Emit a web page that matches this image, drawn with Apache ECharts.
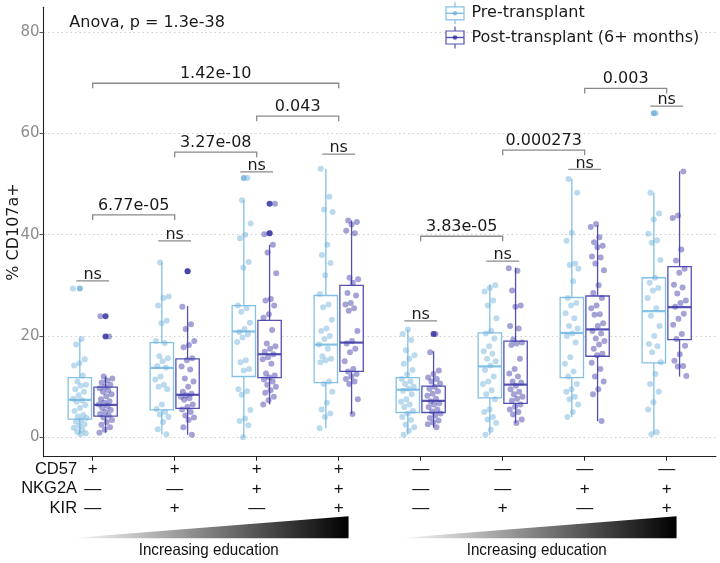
<!DOCTYPE html>
<html><head><meta charset="utf-8">
<script src="https://cdn.jsdelivr.net/npm/echarts@6/dist/echarts.min.js"></script>
<style>html,body{margin:0;padding:0;background:#fff}#c{width:720px;height:563px}</style>
</head><body><div id="c"></div>
<script>
// ---------- data ----------
const CD57  = ['+','+','+','+','—','—','—','—'];
const NKG2A = ['—','—','+','+','—','—','+','+'];
const KIR   = ['—','+','—','+','—','+','—','+'];
const rowNames = ['CD57','NKG2A','KIR'];
const yTicks = [0,20,40,60,80];
const seriesNames = ['Pre-transplant','Post-transplant (6+ months)'];

// box stats: [lower whisker, Q1, median, Q3, upper whisker]
const boxPre = [
  [0.6, 3.6, 7.4, 11.8, 19.5],
  [0.6, 5.4, 13.7, 18.7, 34.5],
  [0.0, 12.0, 20.9, 26.0, 46.8],
  [1.8, 10.8, 18.3, 28.0, 53.0],
  [0.5, 4.9, 9.4, 11.8, 21.3],
  [0.5, 7.8, 14.0, 20.6, 30.2],
  [4.0, 11.8, 20.6, 27.6, 51.0],
  [0.6, 14.7, 24.9, 31.5, 48.3]
];
const boxPost = [
  [0.9, 4.2, 6.4, 9.9, 12.0],
  [0.5, 5.7, 8.4, 15.5, 25.9],
  [6.5, 11.8, 16.4, 23.1, 38.0],
  [4.6, 13.0, 18.7, 30.0, 42.8],
  [1.9, 4.9, 7.2, 10.1, 17.0],
  [2.8, 6.7, 10.4, 19.0, 33.5],
  [3.2, 16.0, 21.3, 27.9, 41.9],
  [12.0, 19.3, 25.7, 33.7, 52.5]
];
const outPre  = [[29.4],[],[51.2],[],[],[],[],[64.0]];
const outPost = [[23.9,19.9],[32.8],[46.1,40.3],[],[20.4],[],[],[]];

const ptsPre = [
  [29.4,19.4,18.3,15.4,14.6,14.2,12.2,11.0,10.4,10.2,9.5,9.0,8.3,7.6,7.3,7.0,6.4,5.8,5.2,4.4,4.1,3.8,3.4,3.1,2.6,2.3,1.9,1.5,1.1,0.8,0.6],
  [34.5,27.8,27.5,26.0,23.0,22.5,19.0,18.6,16.0,15.6,15.0,14.1,13.8,12.0,11.4,10.4,10.0,9.5,6.5,5.6,5.0,4.5,4.0,3.0,1.6,0.6],
  [51.2,46.8,42.2,40.0,39.3,34.6,33.5,26.0,25.5,24.8,22.6,21.4,20.8,20.3,19.7,18.8,15.2,14.8,13.5,13.2,9.5,9.1,8.4,5.4,3.7,3.2,2.4,0.0],
  [53.0,47.5,45.0,44.5,38.0,36.0,34.4,32.0,28.3,26.2,25.7,23.2,21.5,21.0,20.0,19.4,18.3,17.5,16.0,15.5,15.2,14.8,11.0,10.5,9.0,6.8,5.5,4.7,4.0,1.8],
  [21.3,20.4,19.2,17.2,16.2,15.5,14.5,13.3,12.4,11.5,11.0,10.5,10.0,9.6,9.2,8.5,7.5,7.0,6.5,6.0,5.2,4.7,4.0,3.4,2.5,2.0,1.3,0.5],
  [30.0,29.5,28.8,27.0,26.0,23.5,21.0,20.5,19.5,18.0,17.0,16.5,15.5,15.0,14.2,13.3,12.0,11.0,10.5,9.3,8.5,7.5,5.5,5.0,4.0,3.5,2.8,1.5,0.5],
  [51.0,48.3,40.4,38.8,34.3,34.0,33.3,30.8,27.5,26.5,26.0,24.5,23.5,22.0,21.5,20.5,20.0,18.7,15.8,14.5,13.0,12.0,10.5,9.5,9.0,8.0,7.5,6.5,5.0,4.0],
  [64.0,48.3,44.2,43.0,40.2,38.9,38.4,35.0,31.5,30.5,29.5,29.0,27.5,25.5,24.0,22.0,20.0,18.4,18.0,16.8,14.8,12.5,10.5,9.0,6.9,5.5,1.0,0.6]
];
const ptsPost = [
  [23.9,19.9,12.0,11.6,11.2,10.8,10.4,10.0,9.7,9.3,9.0,8.5,8.1,7.5,7.1,6.8,6.5,6.2,5.8,5.4,5.0,4.6,4.3,3.9,3.4,3.0,2.5,2.0,1.5,0.9],
  [32.8,25.8,22.3,21.4,19.0,18.2,17.8,15.6,15.2,14.0,13.4,11.6,11.0,10.0,9.0,8.6,8.3,8.0,7.7,7.4,6.5,6.0,5.5,5.0,4.3,3.9,3.4,2.0,0.5],
  [46.1,40.3,40.1,38.0,36.5,32.4,27.3,27.0,26.0,24.3,23.6,21.2,18.5,18.0,17.5,16.9,16.4,15.8,15.4,14.5,12.6,12.2,11.8,11.4,11.0,10.4,10.0,9.3,8.8,8.0,7.3,6.5],
  [42.8,42.5,42.0,40.8,40.3,31.5,31.2,30.5,28.5,28.0,26.5,26.2,25.5,25.0,21.0,19.0,18.5,17.5,16.8,15.0,13.5,13.0,12.5,12.0,11.5,11.0,10.5,7.5,4.6],
  [20.4,16.8,13.2,12.5,11.8,11.5,11.0,10.6,10.0,9.6,9.1,8.6,8.2,7.6,7.1,6.7,6.5,6.0,5.5,5.1,4.7,4.3,3.8,3.3,2.9,2.6,2.0],
  [33.4,32.9,29.0,26.0,25.8,22.0,21.5,19.3,18.7,18.5,18.2,15.5,13.5,12.6,12.0,11.0,10.8,10.2,9.5,9.0,8.5,8.0,7.6,7.2,6.5,6.1,5.5,5.0,4.5,3.5,2.8],
  [42.1,41.5,39.5,38.5,37.8,37.5,35.7,35.5,34.3,33.0,30.0,28.5,27.5,26.0,25.5,24.3,24.2,22.5,22.0,21.0,20.5,19.5,19.0,18.3,17.5,16.5,16.2,14.7,13.5,12.0,11.0,9.5,8.5,3.2],
  [52.5,43.8,43.3,37.1,34.9,33.3,32.5,30.1,29.6,28.4,27.0,26.5,25.8,24.4,23.4,22.2,20.4,19.4,18.1,16.4,15.1,14.1,14.0,12.1]
];

// comparisons
const bracketLabel = ['1.42e-10','0.043','3.27e-08','6.77e-05','3.83e-05','0.000273','0.003'];
const bracketFrom  = [0,2,1,0,4,5,6];
const bracketTo    = [3,3,2,1,5,6,7];
const bracketY     = [69.9,63.4,56.3,43.9,39.7,56.7,68.9];
const nsLabel = ['ns','ns','ns','ns','ns','ns','ns','ns'];
const nsY     = [30.9,38.8,52.4,55.9,23.0,34.8,52.9,65.4];
const anovaText = 'Anova, p = 1.3e-38';
const eduText = 'Increasing education';

// ---------- styling ----------
const PRE_LINE = '#82c0e5', POST_LINE = '#5350b2';
const PRE_PT = 'rgba(110,176,218,0.58)', POST_PT = 'rgba(60,56,166,0.58)';
const PRE_OUT = '#6aaed8', POST_OUT = '#27279a';
const DODGE = 0.157, BOX_W = 0.285, JIT = 0.085;
const FONT = 'DejaVu Sans';
const TFONT = '"Liberation Sans", Arial, sans-serif';
const YMIN = -3.83, YMAX = 84.9;

function jitter(g, k) { const f = ((k * 0.6180339 + g * 0.377) % 1); return (f - 0.5) * 2 * JIT; }

function boxRender(color) {
  return function (params, api) {
    const x = api.value(0);
    const lo = api.coord([x, api.value(1)]), q1 = api.coord([x, api.value(2)]),
          md = api.coord([x, api.value(3)]), q3 = api.coord([x, api.value(4)]),
          hi = api.coord([x, api.value(5)]);
    const hw = api.size([BOX_W, 0])[0] / 2;
    const ls = { stroke: color, lineWidth: 1.3 };
    return { type: 'group', children: [
      { type: 'line', shape: { x1: lo[0], y1: lo[1], x2: q1[0], y2: q1[1] }, style: ls },
      { type: 'line', shape: { x1: q3[0], y1: q3[1], x2: hi[0], y2: hi[1] }, style: ls },
      { type: 'rect', shape: { x: q3[0] - hw, y: q3[1], width: 2 * hw, height: q1[1] - q3[1] }, style: { fill: '#fff', stroke: color, lineWidth: 1.3 } },
      { type: 'line', shape: { x1: md[0] - hw, y1: md[1], x2: md[0] + hw, y2: md[1] }, style: { stroke: color, lineWidth: 2.2 } }
    ]};
  };
}
function bracketRender(labels, tips) {
  return function (params, api) {
    const a = api.coord([api.value(0), api.value(2)]), b = api.coord([api.value(1), api.value(2)]);
    const t = tips ? api.size([0, 1])[1] : 0;
    const pts = tips ? [[a[0], a[1] + t], a, b, [b[0], b[1] + t]] : [a, b];
    return { type: 'group', children: [
      { type: 'polyline', shape: { points: pts }, style: { stroke: '#8a8a8a', lineWidth: 1.3, fill: null } },
      { type: 'text', style: { text: labels[params.dataIndex], x: (a[0] + b[0]) / 2, y: a[1] + (tips ? -1 : 2),
        align: 'center', verticalAlign: 'bottom', fontFamily: FONT, fontSize: 16, fill: '#1a1a1a' } }
    ]};
  };
}

const boxPreData  = boxPre.map((b, i) => [i - DODGE, ...b]);
const boxPostData = boxPost.map((b, i) => [i + DODGE, ...b]);
const outPreData  = [].concat(...outPre.map((o, i) => o.map(v => [i - DODGE, v])));
const outPostData = [].concat(...outPost.map((o, i) => o.map(v => [i + DODGE, v])));
const ptPreData   = [].concat(...ptsPre.map((o, i) => o.map((v, k) => [i - DODGE + jitter(i, k), v])));
const ptPostData  = [].concat(...ptsPost.map((o, i) => o.map((v, k) => [i + DODGE + jitter(i + 3, k), v])));
const brData = bracketLabel.map((l, i) => [bracketFrom[i], bracketTo[i], bracketY[i]]);
const nsData = nsY.map((y, i) => [i - 0.2, i + 0.2, y]);
const cats = CD57.map((c, i) => i);

const chart = echarts.init(document.getElementById('c'), null, { renderer: 'canvas' });
const option = {
  animation: false,
  backgroundColor: '#fff',
  grid: { left: 43.5, right: 4.1, top: 7.3, bottom: 106.3, containLabel: false, outerBoundsMode: 'none' },
  xAxis: {
    type: 'value', min: -0.6, max: 7.6,
    splitLine: { show: false },
    axisLine: { show: true, onZero: false, lineStyle: { color: '#222', width: 1.1 } },
    axisTick: { show: true, customValues: cats, length: 4, lineStyle: { color: '#222' } },
    axisLabel: { customValues: cats, margin: 3, formatter: v => CD57[v] + '\n' + NKG2A[v] + '\n' + KIR[v],
      fontFamily: TFONT, fontSize: 17, lineHeight: 19.5, color: '#111' }
  },
  yAxis: {
    type: 'value', min: YMIN, max: YMAX,
    name: '% CD107a+', nameLocation: 'middle', nameGap: 22, nameMoveOverlap: false,
    nameTextStyle: { fontFamily: FONT, fontSize: 16, color: '#1a1a1a' },
    axisLine: { show: true, onZero: false, lineStyle: { color: '#222', width: 1.1 } },
    axisTick: { show: true, customValues: yTicks, length: 4, lineStyle: { color: '#555' } },
    axisLabel: { customValues: yTicks, margin: 4, fontFamily: FONT, fontSize: 15, color: '#8c8c8c' },
    splitLine: { show: true, lineStyle: { color: '#cfcfcf', type: [1.5, 3], width: 1 } }
  },
  series: [
    { type: 'custom', name: seriesNames[0], renderItem: boxRender(PRE_LINE), data: boxPreData, encode: { x: 0, y: [1,2,3,4,5] }, z: 2 },
    { type: 'custom', name: seriesNames[1], renderItem: boxRender(POST_LINE), data: boxPostData, encode: { x: 0, y: [1,2,3,4,5] }, z: 2 },
    { type: 'scatter', data: outPreData, symbolSize: 6, itemStyle: { color: PRE_OUT }, z: 3 },
    { type: 'scatter', data: outPostData, symbolSize: 6, itemStyle: { color: POST_OUT }, z: 3 },
    { type: 'scatter', data: ptPreData, symbolSize: 6, itemStyle: { color: PRE_PT }, z: 4 },
    { type: 'scatter', data: ptPostData, symbolSize: 6, itemStyle: { color: POST_PT }, z: 4 },
    { type: 'custom', renderItem: bracketRender(bracketLabel, true), data: brData, encode: { x: [0,1], y: 2 }, clip: false, z: 5 },
    { type: 'custom', renderItem: bracketRender(nsLabel, false), data: nsData, encode: { x: [0,1], y: 2 }, clip: false, z: 5 }
  ]
};
chart.setOption(option);

// ---------- annotations positioned from the axes ----------
const px = (x, y) => chart.convertToPixel({ gridIndex: 0 }, [x, y]);
const axisBottom = px(0, YMIN)[1];
const anova = px(-0.285, 81.9);
const tri = [[-0.29, 3.12], [3.71, 7.12]];
const triTop = axisBottom + 59.5, triBot = axisBottom + 81.5, eduY = axisBottom + 93.5;
const graphics = [
  { type: 'text', style: { text: anovaText, x: anova[0], y: anova[1], verticalAlign: 'middle', fontFamily: FONT, fontSize: 16, fill: '#1a1a1a' } },
  { type: 'text', style: { text: rowNames.join('\n'), x: px(-0.19, 0)[0], y: axisBottom + 3, align: 'right', verticalAlign: 'top',
      fontFamily: TFONT, fontSize: 16.5, lineHeight: 19.5, fill: '#111' } }
];
tri.forEach(t => {
  const l = px(t[0], 0)[0], r = px(t[1], 0)[0];
  graphics.push({ type: 'polygon', shape: { points: [[l, triBot], [r, triBot], [r, triTop]] },
    style: { fill: new echarts.graphic.LinearGradient(0, 0, 1, 0, [{ offset: 0, color: '#ffffff' }, { offset: 1, color: '#000000' }]) } });
  graphics.push({ type: 'text', x: (l + r) / 2, y: eduY, scaleX: 0.92, style: { text: eduText, x: 0, y: 0, align: 'center', verticalAlign: 'middle',
    fontFamily: TFONT, fontSize: 16.5, fill: '#111' } });
});
// legend
const legX = 455, legY = [13.3, 37.5], legCol = [PRE_LINE, POST_LINE], legPt = [PRE_OUT, POST_OUT];
seriesNames.forEach((n, i) => {
  const cy = legY[i], c = legCol[i];
  graphics.push({ type: 'line', shape: { x1: legX, y1: cy - 11, x2: legX, y2: cy + 11 }, style: { stroke: c, lineWidth: 1.2 } });
  graphics.push({ type: 'rect', shape: { x: legX - 9, y: cy - 6.5, width: 18, height: 13 }, style: { fill: '#fff', stroke: c, lineWidth: 1.2 } });
  graphics.push({ type: 'line', shape: { x1: legX - 9, y1: cy, x2: legX + 9, y2: cy }, style: { stroke: c, lineWidth: 1.4 } });
  graphics.push({ type: 'circle', shape: { cx: legX, cy: cy, r: 2.3 }, style: { fill: legPt[i], opacity: 0.75 } });
  graphics.push({ type: 'text', style: { text: n, x: 471.5, y: cy, verticalAlign: 'middle', fontFamily: FONT, fontSize: 16, fill: '#1a1a1a' } });
});
chart.setOption({ graphic: graphics });
</script>
</body></html>
